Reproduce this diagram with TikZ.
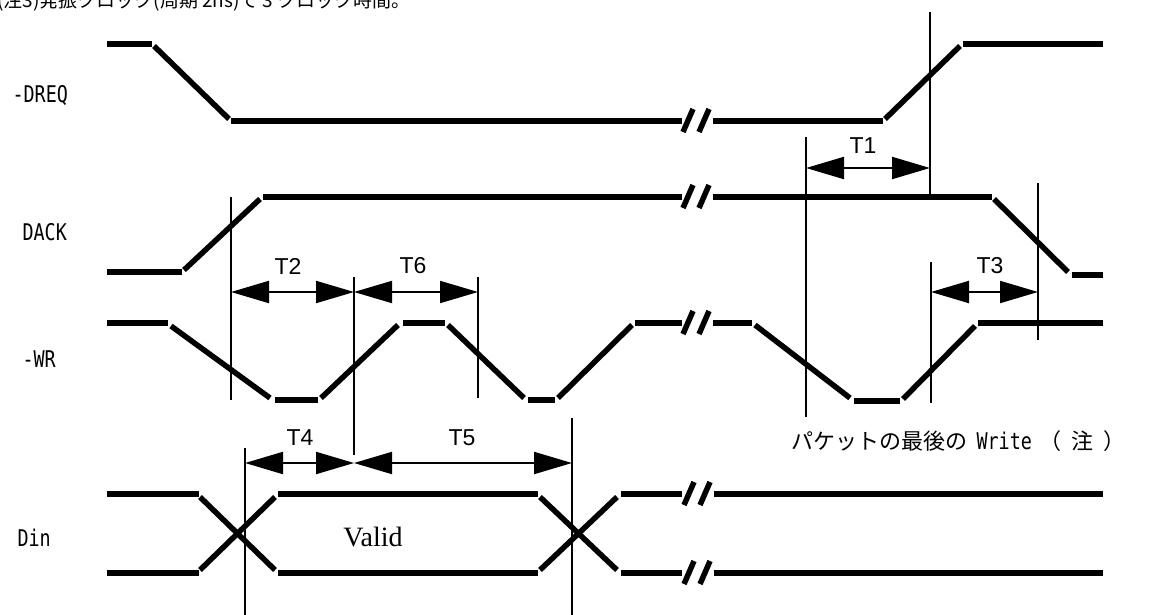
\documentclass[tikz,border=0pt]{standalone}
\usepackage{fontspec}
\setmainfont{Liberation Sans}
\newfontfamily\jp{Noto Sans CJK JP}
\newfontfamily\monof[FakeStretch=0.8]{DejaVu Sans Mono}
\newfontfamily\serifv{Liberation Serif}
\usetikzlibrary{arrows.meta}
\tikzset{
  sig/.style={line width=5.5pt},
  thin/.style={line width=1.8pt},
  dim/.style={line width=2pt,{Triangle[length=38pt,width=22pt]}-{Triangle[length=38pt,width=22pt]}},
  tlab/.style={font=\fontsize{23}{25}\selectfont},
  siglab/.style={anchor=west,font=\fontsize{23}{25}\monof},
  brk/.pic={\draw[sig] (-5,11)--(5,-12); \draw[sig] (11,11)--(21,-12);}
}
\begin{document}
\begin{tikzpicture}[x=1pt,y=-1pt]
\useasboundingbox (0,0) rectangle (1158,615);
% top note (cut by the page edge, as in the reference)
\node[anchor=base west,inner sep=0pt,font=\fontsize{19}{21}\jp] (note) at (-3,8) {(注3)発振クロック(周期 2ns)で 3 クロック時間。};
% signal labels
\node[siglab] (lDREQ) at (9,95) {-DREQ};
\node[siglab] (lDACK) at (19,232) {DACK};
\node[siglab] (lWR) at (19,359) {-WR};
\node[siglab] (lDin) at (14,538) {Din};
% -DREQ
\draw[sig] (107,44)--(152,44);
\draw[sig] (154,46)--(229,119);
\draw[sig] (231,121)--(682,121);
\pic at (688,121) {brk};
\draw[sig] (713,121)--(883,121);
\draw[sig] (885,119)--(960,46);
\draw[sig] (963,44)--(1103,44);
% DACK
\draw[sig] (107,272)--(182,272);
\draw[sig] (184,270)--(260,199);
\draw[sig] (263,197)--(682,197);
\pic at (688,197) {brk};
\draw[sig] (713,197)--(992,197);
\draw[sig] (994,199)--(1068,272);
\draw[sig] (1072,275)--(1103,275);
% -WR
\draw[sig] (107,323)--(168,323);
\draw[sig] (171,326)--(270,398);
\draw[sig] (275,400)--(318,400);
\draw[sig] (321,398)--(398,325);
\draw[sig] (403,323)--(445,323);
\draw[sig] (448,325)--(524,398);
\draw[sig] (528,400)--(555,400);
\draw[sig] (558,398)--(632,325);
\draw[sig] (635,323)--(682,323);
\pic at (688,323) {brk};
\draw[sig] (713,323)--(752,323);
\draw[sig] (755,325)--(850,398);
\draw[sig] (854,401)--(900,401);
\draw[sig] (903,399)--(975,326);
\draw[sig] (978,323)--(1103,323);
% Din
\draw[sig] (107,494)--(199,494);
\draw[sig] (107,573)--(199,573);
\draw[sig] (200,497)--(275,570);
\draw[sig] (200,570)--(275,497);
\draw[sig] (278,494)--(538,494);
\draw[sig] (278,573)--(538,573);
\draw[sig] (540,497)--(617,570);
\draw[sig] (540,570)--(617,497);
\draw[sig] (621,494)--(682,494);
\draw[sig] (621,573)--(682,573);
\pic at (689,494) {brk};
\pic at (689,573) {brk};
\draw[sig] (714,494)--(1103,494);
\draw[sig] (714,573)--(1103,573);
\node[font=\fontsize{28}{30}\serifv] (valid) at (373,537) {Valid};
% timing reference lines
\coordinate (v1t) at (231,197); \coordinate (v1b) at (231,400);
\coordinate (v2t) at (354,277); \coordinate (v2b) at (354,455);
\coordinate (v3t) at (478,277); \coordinate (v3b) at (478,398);
\coordinate (v4t) at (245,448); \coordinate (v4b) at (245,615);
\coordinate (v5t) at (572,418); \coordinate (v5b) at (572,615);
\coordinate (v6t) at (806,137); \coordinate (v6b) at (806,417);
\coordinate (v7t) at (930,12);  \coordinate (v7b) at (930,197);
\coordinate (v8t) at (931,262); \coordinate (v8b) at (931,403);
\coordinate (v9t) at (1038,183); \coordinate (v9b) at (1038,340);
\foreach \v in {v1,v2,v3,v4,v5,v6,v7,v8,v9} \draw[thin] (\v t)--(\v b);
% dimension arrows
\coordinate (t1a) at (806,168); \coordinate (t1b) at (930,168);
\coordinate (t2a) at (231,292); \coordinate (t2b) at (354,292);
\coordinate (t6a) at (354,292); \coordinate (t6b) at (478,292);
\coordinate (t3a) at (931,292); \coordinate (t3b) at (1038,292);
\coordinate (t4a) at (245,463); \coordinate (t4b) at (354,463);
\coordinate (t5a) at (354,463); \coordinate (t5b) at (572,463);
\foreach \t in {t1,t2,t6,t3,t4,t5} \draw[dim] (\t a)--(\t b);
\node[tlab] (T1) at (863,146) {T1};
\node[tlab] (T2) at (288,266) {T2};
\node[tlab] (T6) at (413,266) {T6};
\node[tlab] (T3) at (990,266) {T3};
\node[tlab] (T4) at (300,438) {T4};
\node[tlab] (T5) at (462,438) {T5};
% last write note
\node[anchor=west,font=\fontsize{22}{24}\jp] (last) at (788,441) {パケットの最後の\hspace{9pt}{\fontsize{23}{25}\monof Write}\hspace{8pt}（\hspace{10pt}注\hspace{10pt}）};
\end{tikzpicture}
\end{document}
